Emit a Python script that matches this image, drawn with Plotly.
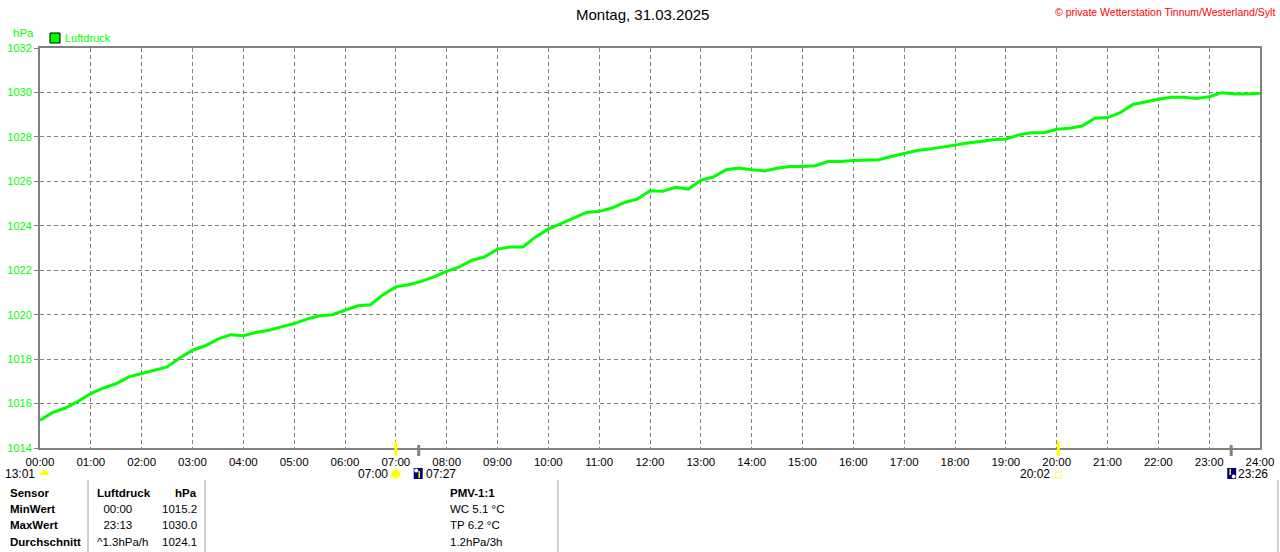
import plotly.graph_objects as go

# ---------------- data ----------------
times = ["00:00","00:15","00:30","00:45","01:00","01:15","01:30","01:45",
         "02:00","02:15","02:30","02:45","03:00","03:15","03:30","03:45",
         "04:00","04:15","04:30","04:45","05:00","05:15","05:30","05:45",
         "06:00","06:15","06:30","06:45","07:00","07:15","07:30","07:45",
         "08:00","08:15","08:30","08:45","09:00","09:15","09:30","09:45",
         "10:00","10:15","10:30","10:45","11:00","11:15","11:30","11:45",
         "12:00","12:15","12:30","12:45","13:00","13:15","13:30","13:45",
         "14:00","14:15","14:30","14:45","15:00","15:15","15:30","15:45",
         "16:00","16:15","16:30","16:45","17:00","17:15","17:30","17:45",
         "18:00","18:15","18:30","18:45","19:00","19:15","19:30","19:45",
         "20:00","20:15","20:30","20:45","21:00","21:15","21:30","21:45",
         "22:00","22:15","22:30","22:45","23:00","23:15","23:30","23:45","24:00"]
luftdruck = [1015.25,1015.6,1015.8,1016.1,1016.45,1016.7,1016.9,1017.2,
             1017.35,1017.5,1017.65,1018.05,1018.4,1018.6,1018.9,1019.1,
             1019.05,1019.2,1019.3,1019.45,1019.6,1019.8,1019.95,1020.0,
             1020.2,1020.4,1020.45,1020.9,1021.25,1021.35,1021.5,1021.7,
             1021.95,1022.15,1022.45,1022.6,1022.95,1023.05,1023.05,1023.5,
             1023.85,1024.1,1024.35,1024.6,1024.65,1024.8,1025.05,1025.2,
             1025.58,1025.55,1025.73,1025.65,1026.05,1026.2,1026.52,1026.6,
             1026.52,1026.47,1026.59,1026.67,1026.67,1026.7,1026.89,1026.89,
             1026.94,1026.97,1026.97,1027.12,1027.27,1027.39,1027.45,1027.55,
             1027.65,1027.72,1027.79,1027.87,1027.9,1028.09,1028.19,1028.19,
             1028.34,1028.39,1028.49,1028.84,1028.87,1029.09,1029.46,1029.58,
             1029.69,1029.78,1029.78,1029.73,1029.81,1029.99,1029.93,1029.93,1029.96]
x_tick_labels = ["%02d:00" % h for h in range(25)]
y_ticks = [1014, 1016, 1018, 1020, 1022, 1024, 1026, 1028, 1030, 1032]

sun_rise = "07:00"
sun_set = "20:02"
moon_rise = "13:01"
moon_events = ["07:27", "23:26"]

table_rows = [
    ["Sensor", "Luftdruck", "hPa", "PMV-1:1"],
    ["MinWert", "  00:00", "1015.2", "WC 5.1 °C"],
    ["MaxWert", "  23:13", "1030.0", "TP 6.2 °C"],
    ["Durchschnitt", "^1.3hPa/h", "1024.1", "1.2hPa/3h"],
]

title = "Montag, 31.03.2025"
copyright_text = "© private Wetterstation Tinnum/Westerland/Sylt"

# ---------------- helpers ----------------
def hours(t):
    h, m = t.split(":")
    return int(h) + int(m) / 60.0

L, R, T, B = 40, 1260, 48, 448
def X(px):
    return (px - L) / (R - L)
def Y(py):
    return (B - py) / (B - T)

FONT = "Liberation Sans"
GREEN = "#00ff00"
GRAY = "#808080"

fig = go.Figure()
fig.add_trace(go.Scatter(
    x=[hours(t) for t in times], y=luftdruck, mode="lines",
    line=dict(color=GREEN, width=3), name="Luftdruck", showlegend=False,
    hoverinfo="skip"))

fig.update_layout(
    width=1280, height=552,
    margin=dict(l=L, r=1280 - R, t=T, b=552 - B),
    paper_bgcolor="white", plot_bgcolor="white",
    font=dict(family=FONT, size=12, color="black"),
    xaxis=dict(range=[0, 24], tickvals=list(range(25)), ticktext=x_tick_labels,
               showgrid=True, gridcolor=GRAY, griddash="4px,3px", gridwidth=1,
               showline=True, linecolor=GRAY, linewidth=2, mirror=True,
               ticks="", zeroline=False, automargin=False, ticklabelstandoff=2,
               tickfont=dict(family=FONT, size=11.5, color="black")),
    yaxis=dict(range=[1014, 1032], tickvals=y_ticks,
               showgrid=True, gridcolor=GRAY, griddash="4px,3px", gridwidth=1,
               showline=True, linecolor=GRAY, linewidth=2, mirror=True,
               ticks="outside", ticklen=4, tickcolor=GRAY, zeroline=False,
               automargin=False,
               tickfont=dict(family=FONT, size=11, color=GREEN)),
)

ann = []
def text(px, py, s, size=11, color="black", anchor="left", bold=False):
    ann.append(dict(x=X(px), y=Y(py), xref="paper", yref="paper",
                    text=("<b>%s</b>" % s) if bold else s, showarrow=False,
                    xanchor=anchor, yanchor="middle",
                    font=dict(family=FONT, size=size, color=color)))

text(642, 15, title, size=15, anchor="center")
text(1277, 12, copyright_text, size=10.5, color="#ff0000", anchor="right")
text(11, 33, "hPa", size=11.5, color=GREEN)
text(63, 38, "Luftdruck", size=11, color=GREEN)

shapes = []
def rect(x0, y0, x1, y1, fill, line="rgba(0,0,0,0)", lw=0):
    shapes.append(dict(type="rect", xref="paper", yref="paper",
                       x0=X(x0), x1=X(x1), y0=Y(y0), y1=Y(y1),
                       fillcolor=fill, line=dict(color=line, width=lw)))
def seg(x0, y0, x1, y1, color, w):
    shapes.append(dict(type="line", xref="paper", yref="paper",
                       x0=X(x0), x1=X(x1), y0=Y(y0), y1=Y(y1),
                       line=dict(color=color, width=w)))
def circ(cx, cy, r, fill, line="rgba(0,0,0,0)", lw=0):
    shapes.append(dict(type="circle", xref="paper", yref="paper",
                       x0=X(cx - r), x1=X(cx + r), y0=Y(cy - r), y1=Y(cy + r),
                       fillcolor=fill, line=dict(color=line, width=lw)))

# legend square
rect(50, 33, 60, 43, GREEN, "black", 1)

def hx(t):
    return L + hours(t) / 24.0 * (R - L)

# sun rise / set markers on the axis
for t in [sun_rise, sun_set]:
    seg(hx(t), 441, hx(t), 456, "#ffff00", 3)
for t in moon_events:
    seg(hx(t), 445, hx(t), 456, GRAY, 3)

# row of event labels below the axis
text(3, 474, moon_rise, size=12)
circ(44.5, 475, 4.5, "#ffff00")
rect(39, 475, 50, 479, "white")

sx = hx(sun_rise)
text(sx - 6, 474, sun_rise, size=12, anchor="right")
circ(sx, 474, 6, "#ffffc0")
circ(sx, 474, 4, "#ffff00")

for i, t in enumerate(moon_events):
    mx = hx(t)
    if i == 0:
        rect(mx - 5, 468, mx + 4, 479, "#000080")
        circ(mx - 2.5, 470.5, 2, "white")
        seg(mx + 0.5, 471, mx + 0.5, 478, "#ffff00", 1.5)
    else:
        rect(mx - 4, 468, mx + 5, 479, "#000080")
        circ(mx + 2.5, 476.5, 2, "white")
        seg(mx - 1, 469, mx - 1, 475, "#ffff00", 1.5)
    text(mx + 5, 474, t, size=12)

ex = hx(sun_set)
text(ex - 6, 474, sun_set, size=12, anchor="right")
rect(ex - 3, 472, ex + 3, 478, "white", "#ffff40", 1)

# table
for xs in [88, 205, 558, 1278]:
    seg(xs, 480, xs, 552, "#a0a0a0", 1)
row_y = [493, 509, 525, 542]
for i, row in enumerate(table_rows):
    b = (i == 0)
    text(8, row_y[i], row[0], size=11.5, bold=True)
    text(95, row_y[i], row[1], size=11.5, bold=b)
    text(199, row_y[i], row[2], size=11.5, bold=b, anchor="right")
    text(448, row_y[i], row[3], size=11.5, bold=b)

fig.update_layout(annotations=ann, shapes=shapes)
fig.write_html("out.html", config={"displayModeBar": False},
               post_script="document.body.style.margin='0';document.body.style.overflow='hidden';")
